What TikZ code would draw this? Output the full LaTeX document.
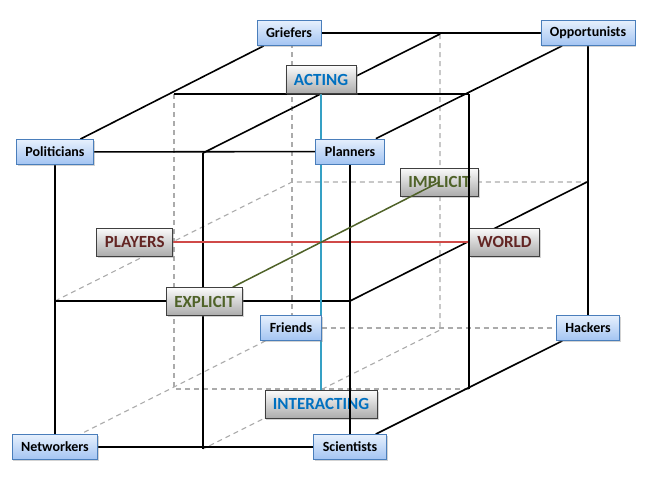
\documentclass[tikz,border=0pt]{standalone}
\usepackage{fontspec}
\setsansfont{Carlito}
\usetikzlibrary{shadows}
\definecolor{nodeTop}{HTML}{E6F0FD}
\definecolor{nodeBot}{HTML}{A3C4F2}
\definecolor{nodeBorder}{HTML}{4A7EBB}
\definecolor{lblTop}{HTML}{FBFBFB}
\definecolor{lblBot}{HTML}{ABABAB}
\definecolor{lblBorder}{HTML}{3F3F3F}
\definecolor{acttxt}{HTML}{0070C0}
\definecolor{plytxt}{HTML}{632523}
\definecolor{exptxt}{HTML}{4F6228}
\definecolor{actline}{HTML}{35A0C4}
\definecolor{plyline}{HTML}{D04A48}
\definecolor{expline}{HTML}{4F6228}
\definecolor{dashgray}{HTML}{ABABAB}
\pgfdeclarelayer{dashlayer}
\pgfdeclarelayer{solidlayer}
\pgfdeclarelayer{lbllayer}
\pgfdeclarelayer{overlayer}
\pgfsetlayers{dashlayer,solidlayer,lbllayer,overlayer,main}
\tikzset{
  corner/.style={draw=nodeBorder, line width=0.8pt, top color=nodeTop, bottom color=nodeBot,
    minimum height=25pt, inner xsep=9pt, inner ysep=0pt,
    font=\sffamily\bfseries\fontsize{14}{16}\selectfont, text=black,
    drop shadow={shadow xshift=1.3pt, shadow yshift=-1.3pt, opacity=0.35}},
  axislbl/.style={draw=lblBorder, line width=0.8pt, top color=lblTop, bottom color=lblBot,
    minimum height=28pt, inner xsep=8pt, inner ysep=0pt,
    font=\sffamily\bfseries\fontsize{17}{19}\selectfont,
    drop shadow={shadow xshift=1.5pt, shadow yshift=-1.5pt, opacity=0.35}},
  edge/.style={black, line width=1.6pt},
  hidden/.style={dashgray, line width=1.1pt, dash pattern=on 5pt off 4pt},
  axisline/.style={line width=1.5pt},
}
\begin{document}
\begin{tikzpicture}[x=1pt,y=-1pt]
\useasboundingbox (0,0) rectangle (648,485);
% helper coordinates
\coordinate (md1) at (174,94);
\coordinate (md2) at (469,94);
\coordinate (md3) at (469,389);
\coordinate (md4) at (174,389);
\coordinate (mx1) at (203,153);
\coordinate (mx2) at (440,34);
\coordinate (mx3) at (440,330);
\coordinate (mx4) at (203,449);
\coordinate (my1) at (55,301);
\coordinate (my2) at (350,301);
\coordinate (my3) at (587,182);
\coordinate (my4) at (292,182);
\coordinate (cL) at (173,242);
\coordinate (cR) at (469,242);
\coordinate (cT) at (321,94);
\coordinate (cB) at (321,390);
\coordinate (cF) at (204.5,301.5);
\coordinate (cK) at (439.5,182);

% corner nodes (top layer)
\node[corner] (gri) at (289,33) {Griefers};
\node[corner] (opp) at (588,33) {Opportunists};
\node[corner] (pol) at (55,152) {Politicians};
\node[corner] (pla) at (350,151.5) {Planners};
\node[corner] (fri) at (291,328) {Friends};
\node[corner] (hac) at (588,328) {Hackers};
\node[corner] (net) at (55,447) {Networkers};
\node[corner] (sci) at (350,447) {Scientists};
\node[axislbl, text=exptxt] (explicit) at (cF) {EXPLICIT};

% axis labels
\begin{pgfonlayer}{lbllayer}
\node[axislbl, text=acttxt, anchor=south] (acting) at (cT) {ACTING};
\node[axislbl, text=acttxt, anchor=north] (interacting) at (cB) {INTERACTING};
\node[axislbl, text=plytxt, anchor=east] (players) at (cL) {PLAYERS};
\node[axislbl, text=plytxt, anchor=west] (world) at (cR) {WORLD};
\node[axislbl, text=exptxt] (implicit) at (cK) {IMPLICIT};
\end{pgfonlayer}

% hidden edges
\begin{pgfonlayer}{dashlayer}
\draw[hidden] (292,34) -- (292,330);
\draw[hidden] (fri) -- (hac);
\draw[hidden] (fri) -- (net);
\draw[hidden] (md1) -- (md4) -- (md3);
\draw[hidden] (mx2) -- (mx3) -- (mx4);
\draw[hidden] (my1) -- (my4) -- (my3);
\end{pgfonlayer}

% visible edges
\begin{pgfonlayer}{solidlayer}
\draw[edge] (pol) -- (pla);
\draw[edge] (pol) -- (net);
\draw[edge] (net) -- (sci);
\draw[edge] (gri) -- (opp);
\draw[edge] (opp) -- (hac);
\draw[edge] (pol) -- (gri);
\draw[edge] (pla) -- (opp);
\draw[edge] (sci) -- (hac);
\draw[edge] (md1) -- (md2);
\draw[edge] (mx1) -- (mx4);
\draw[edge] (mx1) -- (mx2);
\draw[edge] (my1) -- (my2) -- (my3);
\draw[axisline, plyline] (players) -- (world);
\draw[axisline, actline] (acting) -- (interacting);
\end{pgfonlayer}

\begin{pgfonlayer}{overlayer}
\draw[edge] (pla) -- (sci);
\draw[edge] (md2) -- (md3);
\draw[axisline, expline] (explicit) -- (implicit.center);
\end{pgfonlayer}
\end{tikzpicture}
\end{document}
